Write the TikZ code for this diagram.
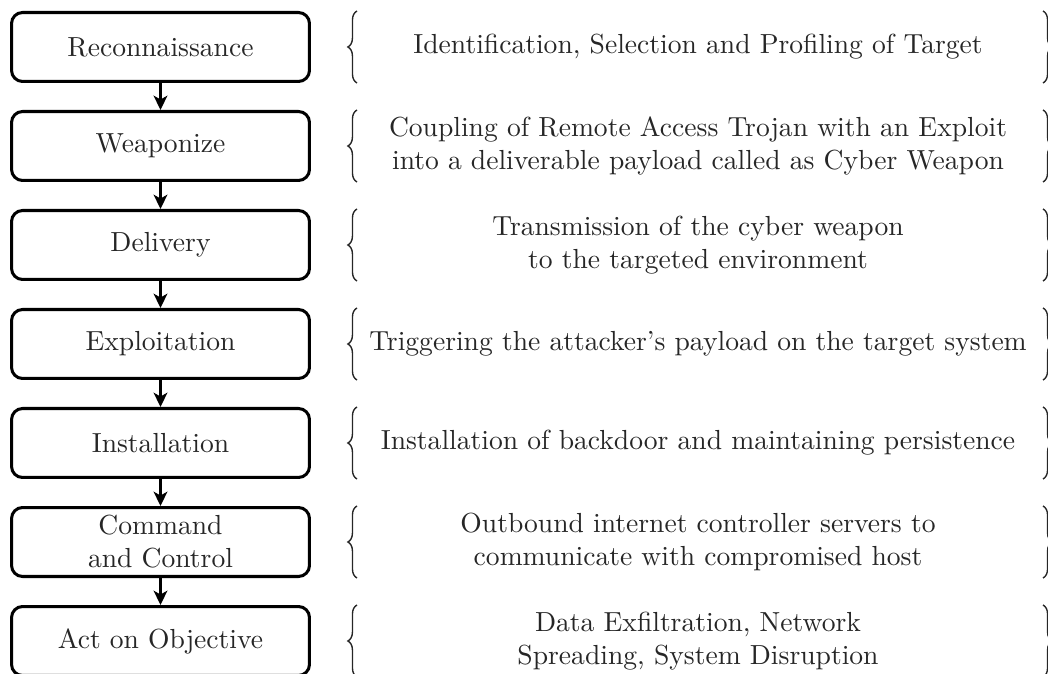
\documentclass[tikz,border=0pt]{standalone}
\usetikzlibrary{arrows.meta,decorations.pathreplacing}
\begin{document}
\begin{tikzpicture}[x=0.3625pt,y=-0.3625pt,
  stage/.style={draw,line width=1.1pt,rounded corners=4pt,minimum width=108pt,minimum height=25pt,align=center,inner sep=1pt,text=black!85},
  desc/.style={align=center,inner sep=0pt,text=black!85},
  flow/.style={line width=0.75pt,-{Stealth[length=5.2pt,width=5pt,inset=1.4pt]}},
  brc/.style={decorate,decoration={brace,amplitude=3.3pt},line width=0.5pt,draw=black!85}]
\useasboundingbox (0,0) rectangle (1048,674);
% stages
\node[stage] (s1) at (160.5,47) {Reconnaissance};
\node[stage] (s2) at (160.5,146) {Weaponize};
\node[stage] (s3) at (160.5,245) {Delivery};
\node[stage] (s4) at (160.5,344) {Exploitation};
\node[stage] (s5) at (160.5,443) {Installation};
\node[stage] (s6) at (160.5,542) {Command\\and Control};
\node[stage] (s7) at (160.5,641) {Act on Objective};
% arrows
\draw[flow] (s1) -- (s2);
\draw[flow] (s2) -- (s3);
\draw[flow] (s3) -- (s4);
\draw[flow] (s4) -- (s5);
\draw[flow] (s5) -- (s6);
\draw[flow] (s6) -- (s7);
% descriptions
\node[desc] (d1) at (698,47) {Identification, Selection and Profiling of Target};
\node[desc] (d2) at (698,146) {Coupling of Remote Access Trojan with an Exploit\\into a deliverable payload called as Cyber Weapon};
\node[desc] (d3) at (698,245) {Transmission of the cyber weapon\\to the targeted environment};
\node[desc] (d4) at (698,344) {Triggering the attacker's payload on the target system};
\node[desc] (d5) at (698,443) {Installation of backdoor and maintaining persistence};
\node[desc] (d6) at (698,542) {Outbound internet controller servers to\\communicate with compromised host};
\node[desc] (d7) at (698,641) {Data Exfiltration, Network\\Spreading, System Disruption};
% braces
\foreach \yc in {47,146,245,344,443,542,641}{
  \coordinate (lt) at (357,\yc-36);
  \coordinate (lb) at (357,\yc+36);
  \coordinate (rt) at (1043,\yc-36);
  \coordinate (rb) at (1043,\yc+36);
  \draw[brc] (lb) -- (lt);
  \draw[brc] (rt) -- (rb);
}
\end{tikzpicture}
\end{document}
